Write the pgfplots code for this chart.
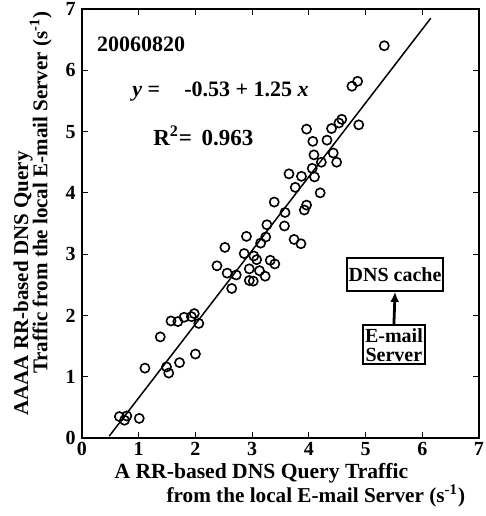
\documentclass[border=0pt]{standalone}
\usepackage{fontspec}
\setmainfont{Liberation Serif}
\usepackage{pgfplots}
\pgfplotsset{compat=1.18}
\usetikzlibrary{arrows.meta}

\newcommand{\fs}[1]{\bfseries\fontsize{#1}{#1}\selectfont}

\begin{document}
\begin{tikzpicture}
\begin{axis}[
    scale only axis,
    width=198.5pt, height=214.5pt,
    xmin=0, xmax=7, ymin=0, ymax=7,
    xtick={0,1,...,7}, ytick={0,1,...,7},
    tick align=inside,
    major tick length=3pt,
    axis line style={line width=0.9pt},
    every tick/.style={black, line width=0.6pt},
    /pgf/number format/assume math mode=true,
    ticklabel style={font=\fs{10}, inner sep=1pt},
    xticklabel style={yshift=-1pt},
    yticklabel style={xshift=-2pt},
    clip=false,
]

% regression line
\addplot[black, line width=0.75pt] coordinates {(0.48,0.03) (6.15,6.85)};

% measured points
\addplot[only marks, mark=o, mark size=2.3pt, mark options={line width=0.8pt, black}] table {
x    y
0.66 0.35
0.75 0.29
0.79 0.36
1.01 0.32
1.11 1.14
1.38 1.65
1.49 1.16
1.53 1.06
1.57 1.91
1.69 1.90
1.72 1.23
1.80 1.97
1.93 1.98
1.98 2.03
2.06 1.87
2.00 1.37
2.38 2.81
2.52 3.11
2.56 2.69
2.64 2.44
2.72 2.66
2.86 3.01
2.90 3.29
2.95 2.76
2.95 2.57
3.02 2.56
3.03 2.97
3.08 2.91
3.13 2.73
3.15 3.18
3.23 2.64
3.24 3.28
3.26 3.48
3.32 2.90
3.39 3.85
3.40 2.84
3.57 3.46
3.58 3.68
3.65 4.31
3.74 3.24
3.76 4.09
3.86 3.17
3.87 4.27
3.92 3.72
3.96 3.80
3.96 5.04
4.06 4.40
4.07 4.84
4.09 4.62
4.10 4.26
4.20 4.00
4.22 4.50
4.32 4.86
4.40 5.05
4.43 4.65
4.49 4.50
4.53 5.14
4.58 5.20
4.76 5.74
4.86 5.82
4.88 5.11
5.33 6.40
};

% annotations
\node[anchor=west, font=\fs{11}, inner sep=0pt] at (axis cs:0.26,6.43) {20060820};
\node[anchor=west, font=\fs{11}, inner sep=0pt] at (axis cs:0.88,5.65)
    {\textit{y} =\hspace{1.1em}-0.53 + 1.25 \textit{x}};
\node[anchor=west, font=\fs{11.5}, inner sep=0pt] at (axis cs:1.25,4.93)
    {R\textsuperscript{2}= \,0.963};

% inset diagram
\node[draw, line width=1pt, font=\fs{10}, minimum width=42pt, minimum height=16.5pt, inner sep=1pt]
    (dns) at (axis cs:5.52,2.67) {DNS cache};
\node[draw, line width=1pt, font=\fs{10}, align=center, minimum width=30pt, minimum height=19.5pt, inner sep=1pt]
    (mail) at (axis cs:5.50,1.52) {E-mail\\[-0.5pt]Server};
\draw[line width=1.4pt, -{Latex[length=5pt, width=4.5pt]}] (mail.north) -- (dns.south);

% axis labels
\node[font=\fs{10.5}, rotate=90, inner sep=0pt] at (rel axis cs:-0.148,0.36) {AAAA RR-based DNS Query};
\node[font=\fs{10.5}, rotate=90, inner sep=0pt] at (rel axis cs:-0.104,0.572) {Traffic from the local E-mail Server (s\textsuperscript{-1})};
\node[font=\fs{10.8}, inner sep=0pt] at (rel axis cs:0.452,-0.082) {A RR-based DNS Query Traffic};
\node[font=\fs{10.6}, inner sep=0pt] at (rel axis cs:0.589,-0.135) {from the local E-mail Server (s\textsuperscript{-1})};

\coordinate (bl) at (rel axis cs:-0.2065,-0.1818);
\coordinate (tr) at (rel axis cs:1.0151,1.021);
\end{axis}
\path (bl) rectangle (tr);
\end{tikzpicture}
\end{document}
